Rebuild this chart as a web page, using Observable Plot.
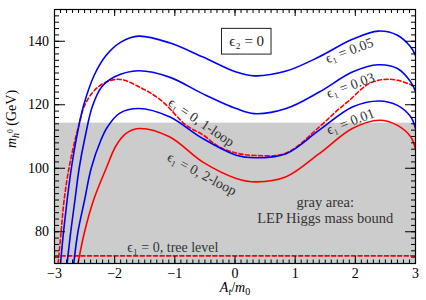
<!DOCTYPE html>
<html><head><meta charset="utf-8">
<script src="https://cdn.jsdelivr.net/npm/d3@7"></script>
<script src="https://cdn.jsdelivr.net/npm/@observablehq/plot@0.6"></script>
<style>
body{margin:0;background:#fff;}
svg{display:block;}
#chart svg, #chart text, #chart tspan{font-family:"Liberation Serif","Times New Roman","DejaVu Serif",serif !important;}
</style></head><body><div id="chart"></div>
<script>
// A_t/m_0 values and Higgs masses (GeV)
const eps05A = [-2.90,-2.85,-2.79,-2.72,-2.63,-2.52,-2.34,-2.14,-1.89,-1.6,-1.09,-0.54,0.02,0.32,0.85,1.40,1.95,2.38,2.70,2.92,3.0];
const eps05M = [70,80,90,100,110,119.5,129.3,135.6,139.8,141.6,139.5,135.1,130.3,129.1,130.6,135.1,140.6,143.2,141.9,138.2,135.5];
const eps03A = [-2.79,-2.73,-2.66,-2.59,-2.49,-2.37,-2.22,-2.0,-1.6,-1.09,-0.54,0.02,0.32,0.85,1.40,1.95,2.38,2.70,2.92,3.0];
const eps03M = [70,80,90,100,110,119.5,125.5,128.8,130.7,128.7,123.5,118.8,117.2,118.8,124.0,130.3,132.6,131.4,127.2,124.2];
const eps01A = [-2.68,-2.61,-2.50,-2.39,-2.23,-2.12,-1.92,-1.6,-1.09,-0.54,0.02,0.32,0.85,1.40,1.95,2.40,2.70,2.92,3.0];
const eps01M = [70,80,90,100,108.8,113,117.3,118.8,116.2,109.4,104.1,103.3,104.6,112.0,119.3,121.2,119.8,116.2,112.5];
const twoLoopA = [-2.61,-2.50,-2.35,-2.14,-1.98,-1.82,-1.6,-1.09,-0.54,0.02,0.35,0.85,1.40,1.95,2.40,2.70,2.92,3.0];
const twoLoopM = [70,80,90,100,107,110.8,112.5,109.9,102.0,96.8,95.7,97.3,104.6,112.5,115.1,113.5,109.9,106];
const oneLoopA = [-2.94,-2.89,-2.84,-2.76,-2.67,-2.59,-2.50,-2.36,-2.19,-1.92,-1.59,-1.23,-0.81,-0.54,-0.26,0.02,0.35,0.85,1.40,1.67,1.90,2.23,2.50,2.70,2.94,3.0];
const oneLoopM = [70,80,90,100,108,114,119.8,124.0,126.7,128.0,125.6,121.4,113.5,110.6,106.7,104.8,104.0,104.8,113.0,117.7,121.4,126.7,128.0,127.7,126.2,125.5];
const treeA = [-3, 3];
const treeM = [72.4, 72.4];
const lepBound = 114.2;

const xDomain = [-3, 3];
const yDomain = [70, 150];
const xMajor = [-3, -2, -1, 0, 1, 2, 3];
const yMajor = [80, 100, 120, 140];
const xMinor = d3.range(-30, 31).map(d => d / 10);
const yMinor = d3.range(70, 151, 2);

// annotation labels (data coordinates)
const curveLabels = [
  {a: 1.90, m: 137.1, text: "ϵ₁ = 0.05", rotate: -20},
  {a: 1.92, m: 126.1, text: "ϵ₁ = 0.03", rotate: -20},
  {a: 1.92, m: 114.7, text: "ϵ₁ = 0.01", rotate: -21},
  {a: -0.56, m: 114.5, text: "ϵ₁ = 0, 1-loop", rotate: 34},
  {a: -0.55, m: 98.2, text: "ϵ₁ = 0, 2-loop", rotate: 28}
];
const grayText = [
  {a: 1.5, m: 89.3, text: "gray area:"},
  {a: 1.5, m: 84.1, text: "LEP Higgs mass bound"}
];
const treeLabel = [{a: -1.79, m: 74.9, text: "ϵ₁ = 0, tree level"}];
const boxLabel = [{a: 0.195, m: 139.9, text: "ϵ₂ = 0", a1: -0.216, a2: 0.607, m1: 135.8, m2: 143.9}];

const rows = (A, M) => A.map((a, i) => ({a, m: M[i]}));
const serif = "Liberation Serif, DejaVu Serif, serif";
const blue = "#0000ff", red = "#ff0000";

const line = (A, M, color, dash) => Plot.line(rows(A, M), {
  x: "a", y: "m", stroke: color, strokeWidth: 1.6, curve: "catmull-rom",
  strokeDasharray: dash ? "4,2.6" : null, clip: true
});

const chart = Plot.plot({
  width: 426, height: 300,
  marginLeft: 54, marginRight: 11, marginTop: 9, marginBottom: 37,
  style: {fontFamily: serif, fontSize: "13px", background: "#fff", color: "#000"},
  x: {domain: xDomain},
  y: {domain: yDomain},
  marks: [
    Plot.rect([lepBound], {x1: xDomain[0], x2: xDomain[1], y1: yDomain[0], y2: d => d, fill: "#cccccc"}),
    line(treeA, treeM, red, true),
    line(twoLoopA, twoLoopM, red, false),
    line(oneLoopA, oneLoopM, red, true),
    line(eps01A, eps01M, blue, false),
    line(eps03A, eps03M, blue, false),
    line(eps05A, eps05M, blue, false),
    Plot.rect(boxLabel, {x1: "a1", x2: "a2", y1: "m1", y2: "m2", fill: "white", stroke: "#222", strokeWidth: 1}),
    Plot.text(boxLabel, {x: "a", y: "m", text: "text", fontSize: 15, fill: "#222"}),
    Plot.text(curveLabels, {x: "a", y: "m", text: "text", rotate: "rotate", fontSize: 14, fill: "#333"}),
    Plot.text(grayText, {x: "a", y: "m", text: "text", fontSize: 14.5, fill: "#333"}),
    Plot.text(treeLabel, {x: "a", y: "m", text: "text", textAnchor: "start", fontSize: 14, fill: "#333"}),
    Plot.frame({stroke: "#000", strokeWidth: 1.2}),
    Plot.axisX(xMinor, {anchor: "bottom", tickSize: -3.5, tickFormat: () => "", label: null}),
    Plot.axisX(xMinor, {anchor: "top", tickSize: -3, tickFormat: () => "", label: null}),
    Plot.axisX(xMajor, {anchor: "bottom", tickSize: -7, tickFormat: () => "", label: null}),
    Plot.axisX(xMajor, {anchor: "top", tickSize: -6, tickFormat: () => "", label: null}),
    Plot.axisX(xMajor, {anchor: "bottom", tickSize: 0, tickPadding: 5, fontSize: 14, label: null}),
    Plot.axisY(yMinor, {anchor: "left", tickSize: -5, tickFormat: () => "", label: null}),
    Plot.axisY(yMinor, {anchor: "right", tickSize: -5, tickFormat: () => "", label: null}),
    Plot.axisY(yMajor, {anchor: "left", tickSize: -11, tickFormat: () => "", label: null}),
    Plot.axisY(yMajor, {anchor: "right", tickSize: -11, tickFormat: () => "", label: null}),
    Plot.axisY(yMajor, {anchor: "left", tickSize: 0, tickPadding: 5.5, fontSize: 14, label: null})
  ]
});

const svg = d3.select(chart);
// y-axis title: m_{h^0} (GeV)
const yt = svg.append("text")
  .attr("transform", "translate(16,119) rotate(-90)")
  .attr("text-anchor", "middle")
  .attr("font-size", 14).attr("fill", "#000");
yt.append("tspan").attr("font-style", "italic").text("m");
yt.append("tspan").attr("font-style", "italic").attr("font-size", 10).attr("dy", 3).text("h");
yt.append("tspan").attr("font-size", 7.5).attr("dy", -6).text("0");
yt.append("tspan").attr("dy", 3).text(" (GeV)");
// x-axis title: A_t/m_0
const xt = svg.append("text")
  .attr("x", 235).attr("y", 292)
  .attr("text-anchor", "middle")
  .attr("font-size", 14).attr("fill", "#000");
xt.append("tspan").attr("font-style", "italic").text("A");
xt.append("tspan").attr("font-style", "italic").attr("font-size", 10).attr("dy", 3).text("t");
xt.append("tspan").attr("dy", -3).text("/");
xt.append("tspan").attr("font-style", "italic").text("m");
xt.append("tspan").attr("font-size", 10).attr("dy", 3).text("0");

document.getElementById("chart").appendChild(chart);
</script></body></html>
